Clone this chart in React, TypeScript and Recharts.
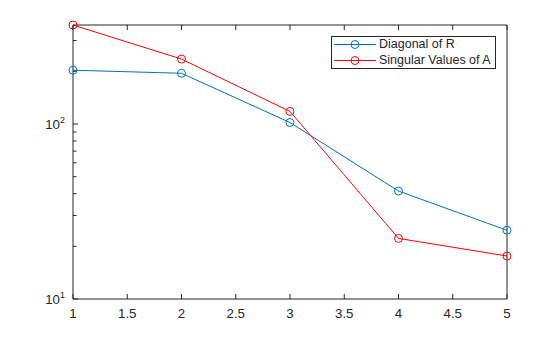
import React from "react";
import { LineChart, Line, XAxis, YAxis, Legend } from "recharts";

// values (log y axis)
const xValues = [1, 2, 3, 4, 5];
const diagonalOfR = [203, 195, 102, 41.4, 24.7];
const singularValuesOfA = [368, 235, 118, 22.2, 17.6];

const xTicks = [1, 1.5, 2, 2.5, 3, 3.5, 4, 4.5, 5];
const yTicks = [10, 20, 30, 40, 50, 60, 70, 80, 90, 100, 200, 300];
const yMajor = [10, 100];

const data = xValues.map((x, i) => ({
  x,
  diag: diagonalOfR[i],
  sing: singularValuesOfA[i],
}));

const AXIS = "#262626";
const FONT = "'Liberation Sans', Arial, Helvetica, sans-serif";
const BLUE = "#0072BD";
const RED = "#FF0000";

// MATLAB style ticks point into the plot
const BottomTick = (props: any) => {
  const { x, y, payload } = props;
  return (
    <g>
      <line x1={x} x2={x} y1={y} y2={y - 5} stroke={AXIS} />
      <text x={x} y={y + 19} textAnchor="middle" fontSize={13.3} fill={AXIS} fontFamily={FONT}>
        {payload.value}
      </text>
    </g>
  );
};

const TopTick = (props: any) => {
  const { x, y } = props;
  return <line x1={x} x2={x} y1={y} y2={y + 5} stroke={AXIS} />;
};

const LeftTick = (props: any) => {
  const { x, y, payload } = props;
  const v = payload.value;
  const major = yMajor.includes(v);
  return (
    <g>
      <line x1={x} x2={x + (major ? 5 : 3.5)} y1={y} y2={y} stroke={AXIS} />
      {major && (
        <text x={x - 8} y={y + 5} textAnchor="end" fontSize={13.3} fill={AXIS} fontFamily={FONT}>
          10
          <tspan dy={-6} fontSize={9}>
            {Math.round(Math.log10(v))}
          </tspan>
        </text>
      )}
    </g>
  );
};

const RightTick = (props: any) => {
  const { x, y, payload } = props;
  const major = yMajor.includes(payload.value);
  return <line x1={x} x2={x - (major ? 5 : 3.5)} y1={y} y2={y} stroke={AXIS} />;
};

const legendItems = [
  { name: "Diagonal of R", color: BLUE },
  { name: "Singular Values of A", color: RED },
];

const renderLegend = () => (
  <div
    style={{
      border: `1px solid ${AXIS}`,
      background: "#fff",
      width: 165,
      height: 33,
      boxSizing: "border-box",
      fontFamily: FONT,
      fontSize: 12.5,
      color: AXIS,
    }}
  >
    {legendItems.map((item) => (
      <div key={item.name} style={{ display: "flex", alignItems: "center", height: 15.5 }}>
        <svg width={47} height={15} style={{ display: "block" }}>
          <line x1={2} x2={44} y1={7.5} y2={7.5} stroke={item.color} />
          <circle cx={23} cy={7.5} r={4} fill="none" stroke={item.color} />
        </svg>
        <span style={{ lineHeight: "15px" }}>{item.name}</span>
      </div>
    ))}
  </div>
);

export default function App() {
  return (
    <div style={{ position: "absolute", left: 0, top: 0, width: 560, height: 337, background: "#fff" }}>
      <LineChart width={560} height={337} data={data} margin={{ top: 24, right: 52, bottom: 8, left: 33 }}>
        <XAxis
          xAxisId="bottom"
          dataKey="x"
          type="number"
          domain={[1, 5]}
          ticks={xTicks}
          height={30}
          tickSize={0}
          tickMargin={0}
          tickLine={false}
          axisLine={{ stroke: AXIS }}
          tick={<BottomTick />}
          interval={0}
        />
        <XAxis
          xAxisId="top"
          orientation="top"
          dataKey="x"
          type="number"
          domain={[1, 5]}
          ticks={xTicks}
          height={1}
          tickSize={0}
          tickMargin={0}
          tickLine={false}
          axisLine={{ stroke: AXIS }}
          tick={<TopTick />}
          interval={0}
        />
        <YAxis
          yAxisId="left"
          scale="log"
          domain={[10, 368]}
          ticks={yTicks}
          width={40}
          tickSize={0}
          tickMargin={0}
          tickLine={false}
          axisLine={{ stroke: AXIS }}
          tick={<LeftTick />}
          interval={0}
        />
        <YAxis
          yAxisId="right"
          orientation="right"
          scale="log"
          domain={[10, 368]}
          ticks={yTicks}
          width={1}
          tickSize={0}
          tickMargin={0}
          tickLine={false}
          axisLine={{ stroke: AXIS }}
          tick={<RightTick />}
          interval={0}
        />
        <Legend
          layout="horizontal"
          verticalAlign="middle"
          align="center"
          content={renderLegend}
          wrapperStyle={{ left: 331, top: 36, width: "auto", height: "auto" }}
        />
        <Line
          xAxisId="bottom"
          yAxisId="left"
          type="linear"
          dataKey="diag"
          name="Diagonal of R"
          stroke={BLUE}
          strokeWidth={1}
          dot={{ r: 4, fill: "none", stroke: BLUE, strokeWidth: 1 }}
          activeDot={false}
          isAnimationActive={false}
        />
        <Line
          xAxisId="bottom"
          yAxisId="left"
          type="linear"
          dataKey="sing"
          name="Singular Values of A"
          stroke={RED}
          strokeWidth={1}
          dot={{ r: 4, fill: "none", stroke: RED, strokeWidth: 1 }}
          activeDot={false}
          isAnimationActive={false}
        />
      </LineChart>
    </div>
  );
}
